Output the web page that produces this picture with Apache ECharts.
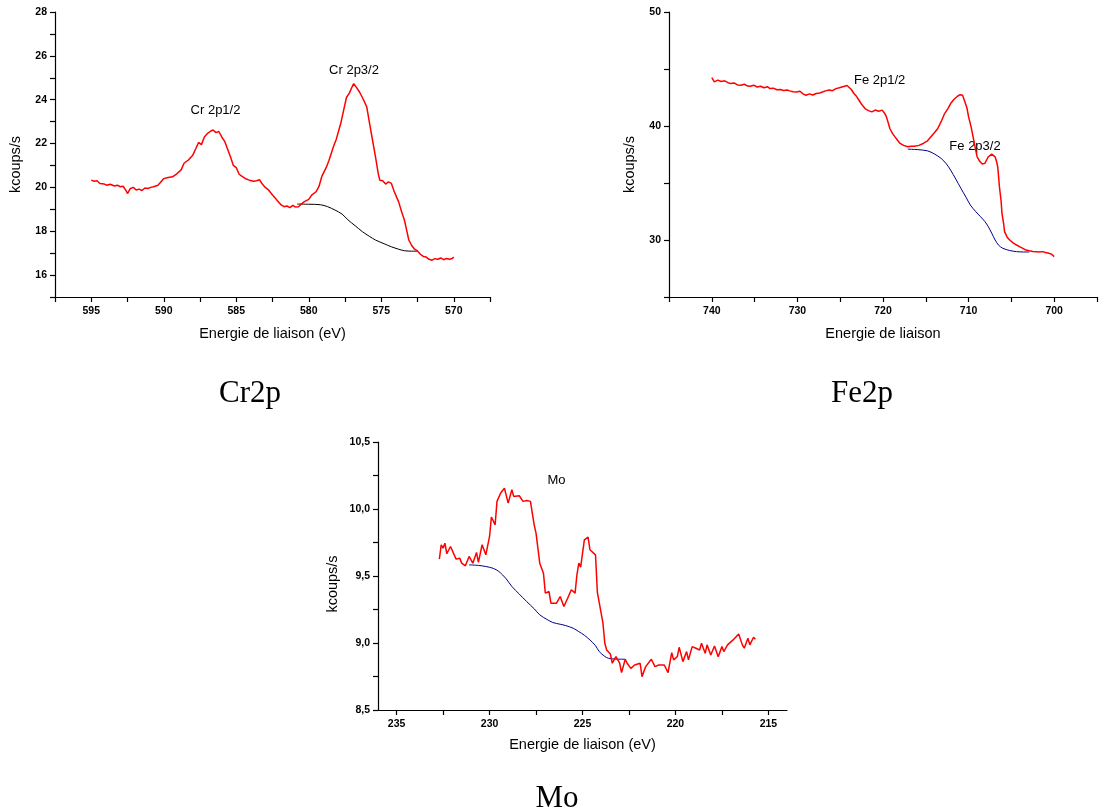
<!DOCTYPE html>
<html>
<head>
<meta charset="utf-8">
<script src="https://cdn.jsdelivr.net/npm/echarts@6/dist/echarts.min.js"></script>
<style>
html,body{margin:0;padding:0;background:#fff;}
#chart{width:1100px;height:811px;}
</style>
</head>
<body>
<div id="chart"></div>
<script>
// ---------- Cr2p ----------
const crX = [595.0,594.8,594.6,594.4,594.1,593.9,593.7,593.4,593.2,593.0,592.8,592.6,592.5,592.3,592.1,591.9,591.7,591.5,591.3,591.1,590.9,590.7,590.4,590.2,590.0,589.7,589.4,589.1,588.8,588.6,588.3,588.0,587.8,587.6,587.4,587.2,587.0,586.8,586.6,586.4,586.2,586.0,585.8,585.6,585.4,585.2,585.0,584.8,584.6,584.3,584.1,583.8,583.6,583.4,583.2,583.0,582.8,582.5,582.3,582.1,581.9,581.7,581.5,581.3,581.1,580.9,580.7,580.5,580.3,580.0,579.8,579.5,579.3,579.1,579.0,578.8,578.6,578.3,578.1,577.8,577.6,577.4,577.2,577.0,576.9,576.7,576.5,576.3,576.0,575.8,575.6,575.4,575.2,575.1,574.9,574.7,574.5,574.3,574.1,573.8,573.6,573.4,573.2,573.1,572.9,572.7,572.5,572.3,572.1,571.9,571.7,571.5,571.3,571.1,570.9,570.7,570.5,570.3,570.1,570.0];
const crY = [20.33,20.28,20.30,20.18,20.15,20.10,20.14,20.06,20.10,20.03,20.05,19.85,19.72,19.95,20.00,19.88,19.92,19.86,19.97,19.95,20.00,20.03,20.10,20.25,20.40,20.45,20.48,20.62,20.80,21.10,21.25,21.47,21.75,22.05,21.95,22.30,22.45,22.55,22.62,22.50,22.55,22.30,22.10,21.75,21.40,21.00,20.90,20.60,20.50,20.38,20.33,20.28,20.30,20.35,20.15,20.00,19.90,19.65,19.50,19.35,19.20,19.12,19.15,19.08,19.18,19.10,19.12,19.25,19.35,19.45,19.65,19.80,20.03,20.50,20.56,20.90,21.24,21.85,22.20,22.90,23.50,24.10,24.30,24.60,24.73,24.55,24.35,24.10,23.67,22.90,22.15,21.40,20.60,20.33,20.30,20.15,20.25,20.18,19.80,19.34,18.90,18.50,17.90,17.60,17.35,17.18,17.10,16.95,16.85,16.82,16.72,16.68,16.75,16.72,16.78,16.70,16.76,16.72,16.76,16.82];
const crBgX = [580.8,580.0,579.2,578.7,578.2,577.7,577.3,576.8,576.3,575.8,575.4,574.8,574.3,573.8,573.4,572.9,572.5];
const crBgY = [19.24,19.23,19.21,19.12,18.97,18.78,18.52,18.25,17.98,17.76,17.60,17.43,17.29,17.18,17.11,17.09,17.09];
const crYTicks = [15, 28, 1];      // min, max, interval
const crXTicks = [567.5, 597.5, 2.5];

// ---------- Fe2p ----------
const feX = [740.0,739.7,739.3,738.9,738.5,738.1,737.8,737.4,737.0,736.6,736.2,735.8,735.5,735.1,734.7,734.3,733.9,733.5,733.2,732.8,732.4,732.0,731.6,731.2,730.9,730.5,730.1,729.7,729.3,729.0,728.6,728.2,727.8,727.4,727.0,726.7,726.3,725.9,725.5,725.1,724.8,724.5,724.2,724.0,723.7,723.4,723.1,722.8,722.5,722.1,721.7,721.3,720.9,720.5,720.1,719.8,719.6,719.4,719.2,718.9,718.6,718.3,718.0,717.6,717.1,716.7,716.3,715.8,715.3,714.8,714.4,714.0,713.6,713.2,712.8,712.4,712.1,711.7,711.3,711.0,710.7,710.5,710.2,710.0,709.7,709.4,709.2,709.0,708.7,708.4,708.1,707.9,707.7,707.5,707.3,707.1,706.9,706.7,706.6,706.5,706.4,706.2,706.1,705.9,705.8,705.5,705.2,704.8,704.4,704.0,703.6,703.3,702.9,702.5,702.1,701.8,701.4,701.0,700.6,700.3,700.0];
const feY = [44.25,43.87,44.02,43.90,43.96,43.80,43.72,43.78,43.60,43.58,43.66,43.50,43.49,43.58,43.42,43.49,43.36,43.45,43.28,43.32,43.18,43.20,43.12,43.16,43.08,43.00,42.99,43.05,42.80,42.70,42.82,42.72,42.85,42.90,43.00,43.08,43.15,43.10,43.28,43.35,43.42,43.49,43.55,43.43,43.20,42.85,42.60,42.26,41.90,41.53,41.35,41.24,41.40,41.30,41.39,41.10,40.80,40.30,39.78,39.35,39.05,38.75,38.47,38.30,38.18,38.22,38.23,38.30,38.47,38.70,39.05,39.40,39.78,40.40,41.09,41.55,41.97,42.35,42.61,42.75,42.70,42.26,41.60,40.80,39.90,38.76,38.00,37.30,36.90,36.66,36.72,36.86,37.30,37.45,37.53,37.45,37.30,36.80,36.42,35.60,34.67,33.40,32.34,31.40,30.73,30.25,30.00,29.75,29.56,29.40,29.25,29.12,29.05,29.00,28.98,28.95,28.98,28.90,28.83,28.75,28.54];
const feBgX = [717.1,716.0,714.8,714.0,713.2,712.6,712.1,711.5,710.9,710.3,709.8,709.2,708.6,708.1,707.7,707.3,706.9,706.5,706.0,705.2,704.4,703.6,702.9];
const feBgY = [37.97,37.93,37.82,37.55,37.15,36.68,36.13,35.35,34.53,33.75,33.07,32.52,32.04,31.62,31.17,30.60,30.00,29.55,29.27,29.08,28.98,28.95,28.95];
const feYTicks = [25, 50, 5];
const feXTicks = [695, 745, 5];

// ---------- Mo ----------
const moX = [232.7,232.6,232.5,232.4,232.3,232.1,232.0,231.8,231.6,231.5,231.3,231.1,230.9,230.7,230.6,230.4,230.2,230.0,229.9,229.7,229.6,229.4,229.2,229.0,228.8,228.7,228.4,228.2,228.0,227.8,227.6,227.5,227.3,227.1,227.0,226.8,226.7,226.4,226.2,226.1,226.0,225.8,225.6,225.4,225.3,225.2,225.1,224.9,224.7,224.6,224.5,224.3,224.2,224.1,223.9,223.8,223.7,223.5,223.4,223.2,223.0,222.9,222.7,222.6,222.4,222.2,221.9,221.8,221.6,221.3,221.1,220.9,220.6,220.4,220.2,220.1,219.9,219.8,219.6,219.4,219.3,219.1,218.9,218.7,218.6,218.4,218.3,218.1,217.9,217.7,217.5,217.4,217.2,216.9,216.6,216.4,216.3,216.1,216.0,215.8,215.7];
const moY = [9.626,9.733,9.708,9.745,9.666,9.720,9.708,9.626,9.633,9.596,9.576,9.646,9.596,9.676,9.601,9.733,9.658,9.795,9.940,9.882,10.057,10.119,10.156,10.044,10.144,10.094,10.099,10.057,10.064,10.057,9.882,9.820,9.596,9.521,9.372,9.384,9.297,9.297,9.347,9.359,9.272,9.334,9.397,9.372,9.509,9.596,9.566,9.770,9.790,9.696,9.708,9.658,9.377,9.372,9.148,8.998,8.948,8.918,8.849,8.898,8.849,8.779,8.879,8.849,8.811,8.836,8.849,8.749,8.824,8.879,8.824,8.836,8.836,8.779,8.928,8.874,8.898,8.968,8.861,8.936,8.874,8.973,8.961,8.948,8.998,8.923,8.986,8.911,8.978,8.898,8.973,8.936,8.986,9.023,9.068,8.986,8.961,9.035,8.986,9.043,9.028];
const moBgX = [231.1,230.6,230.2,229.8,229.5,229.1,228.8,228.4,228.0,227.6,227.3,226.9,226.6,226.2,225.9,225.5,225.2,224.9,224.6,224.3,224.1,223.8,223.6,223.2,222.7];
const moBgY = [9.583,9.579,9.571,9.557,9.534,9.478,9.422,9.365,9.309,9.256,9.210,9.175,9.153,9.140,9.130,9.110,9.085,9.058,9.023,8.980,8.936,8.900,8.886,8.880,8.879];
const moYTicks = [8.5, 10.5, 0.25];
const moXRange = [214, 236];
const moXTickValues = [215,217.5,220,222.5,225,227.5,230,232.5,235];
const moXLabelValues = [215,220,225,230,235];

// ---------- texts ----------
const yName = 'kcoups/s';
const xNameEV = 'Energie de liaison (eV)';
const xNameFe = 'Energie de liaison';
const peakLabels = ['Cr 2p1/2','Cr 2p3/2','Fe 2p1/2','Fe 2p3/2','Mo'];
const captions = ['Cr2p','Fe2p','Mo'];

const pairs = (xs, ys) => xs.map((x, i) => [x, ys[i]]);
const SANS = 'Liberation Sans, Arial, sans-serif';
const SERIF = 'Liberation Serif, Times New Roman, serif';
const TICK = {show: true, inside: false, length: 5, interval: 0, lineStyle: {color: '#000', width: 1.2}};

function mkY(t, fmt, gridIndex, gap, pad) {
  return {
    type: 'value', gridIndex, min: t[0], max: t[1], interval: t[2],
    name: yName, nameLocation: 'middle', nameGap: gap,
    nameTextStyle: {fontFamily: SANS, fontSize: 14.5, color: '#000', padding: pad},
    axisLine: {show: true, lineStyle: {color: '#000', width: 1.2}},
    axisTick: TICK,
    axisLabel: {fontFamily: SANS, fontSize: 10.5, fontWeight: 'bold', color: '#000', margin: 8, formatter: fmt, showMinLabel: true, showMaxLabel: true},
    splitLine: {show: false}
  };
}
function mkX(t, fmt, gridIndex, name, gap) {
  return {
    type: 'value', gridIndex, min: t[0], max: t[1], interval: t[2], inverse: true,
    name: name, nameLocation: 'middle', nameGap: gap,
    nameTextStyle: {fontFamily: SANS, fontSize: 14.5, color: '#000'},
    axisLine: {show: true, onZero: false, lineStyle: {color: '#000', width: 1.2}},
    axisTick: TICK,
    axisLabel: {fontFamily: SANS, fontSize: 10.5, fontWeight: 'bold', color: '#000', margin: 9, formatter: fmt, showMinLabel: true, showMaxLabel: true},
    splitLine: {show: false}
  };
}
const isMult = (v, m) => Math.abs(v / m - Math.round(v / m)) < 1e-6;

const moXAxis = {
  type: 'value', gridIndex: 2, min: moXRange[0], max: moXRange[1], inverse: true,
  name: xNameEV, nameLocation: 'middle', nameGap: 27,
  nameTextStyle: {fontFamily: SANS, fontSize: 14.5, color: '#000'},
  axisLine: {show: true, onZero: false, lineStyle: {color: '#000', width: 1.2}},
  axisTick: Object.assign({}, TICK, {customValues: moXTickValues}),
  axisLabel: {fontFamily: SANS, fontSize: 10.5, fontWeight: 'bold', color: '#000', margin: 9, customValues: moXLabelValues},
  splitLine: {show: false}
};

const option = {
  animation: false,
  backgroundColor: '#fff',
  grid: [
    {left: 55, top: 12, width: 435, height: 285, containLabel: false},
    {left: 669, top: 12, width: 435, height: 285, containLabel: false},
    {left: 378, top: 442, width: 409, height: 268, containLabel: false}
  ],
  xAxis: [
    mkX(crXTicks, v => isMult(v, 5) ? String(v) : '', 0, xNameEV, 29),
    mkX(feXTicks, v => isMult(v, 10) ? String(v) : '', 1, xNameFe, 29),
    moXAxis
  ],
  yAxis: [
    mkY(crYTicks, v => (isMult(v, 2) && v !== crYTicks[0]) ? String(v) : '', 0, 32, [0, 20, 0, 0]),
    mkY(feYTicks, v => (isMult(v, 10)) ? String(v) : '', 1, 32, [0, 20, 0, 0]),
    mkY(moYTicks, v => isMult(v, 0.5) ? v.toFixed(1).replace('.', ',') : '', 2, 38, [0, 16, 0, 0])
  ],
  series: [
    {type: 'line', xAxisIndex: 0, yAxisIndex: 0, data: pairs(crX, crY), showSymbol: false, lineStyle: {color: '#ff0000', width: 1.5}, z: 3},
    {type: 'line', xAxisIndex: 0, yAxisIndex: 0, data: pairs(crBgX, crBgY), showSymbol: false, smooth: 0.3, lineStyle: {color: '#000000', width: 1}, z: 2},
    {type: 'line', xAxisIndex: 1, yAxisIndex: 1, data: pairs(feX, feY), showSymbol: false, lineStyle: {color: '#ff0000', width: 1.5}, z: 3},
    {type: 'line', xAxisIndex: 1, yAxisIndex: 1, data: pairs(feBgX, feBgY), showSymbol: false, smooth: 0.3, lineStyle: {color: '#00008b', width: 1}, z: 2},
    {type: 'line', xAxisIndex: 2, yAxisIndex: 2, data: pairs(moX, moY), showSymbol: false, lineStyle: {color: '#ff0000', width: 1.5}, z: 3},
    {type: 'line', xAxisIndex: 2, yAxisIndex: 2, data: pairs(moBgX, moBgY), showSymbol: false, smooth: 0.3, lineStyle: {color: '#00008b', width: 1}, z: 2}
  ],
  graphic: [
    {type: 'text', x: 215.5, y: 110, style: {text: peakLabels[0], font: '13px ' + SANS, fill: '#000', align: 'center', verticalAlign: 'middle'}},
    {type: 'text', x: 354, y: 70, style: {text: peakLabels[1], font: '13px ' + SANS, fill: '#000', align: 'center', verticalAlign: 'middle'}},
    {type: 'text', x: 854, y: 80.5, style: {text: peakLabels[2], font: '13px ' + SANS, fill: '#000', align: 'left', verticalAlign: 'middle'}},
    {type: 'text', x: 975, y: 146.5, style: {text: peakLabels[3], font: '13px ' + SANS, fill: '#000', align: 'center', verticalAlign: 'middle'}},
    {type: 'text', x: 556.5, y: 480.5, style: {text: peakLabels[4], font: '13px ' + SANS, fill: '#000', align: 'center', verticalAlign: 'middle'}},
    {type: 'text', x: 250, y: 393.5, style: {text: captions[0], font: '31px ' + SERIF, fill: '#000', align: 'center', verticalAlign: 'middle'}},
    {type: 'text', x: 862, y: 393.5, style: {text: captions[1], font: '31px ' + SERIF, fill: '#000', align: 'center', verticalAlign: 'middle'}},
    {type: 'text', x: 557, y: 798.5, style: {text: captions[2], font: '31px ' + SERIF, fill: '#000', align: 'center', verticalAlign: 'middle'}}
  ]
};

const chart = echarts.init(document.getElementById('chart'), null, {renderer: 'canvas'});
chart.setOption(option);
</script>
</body>
</html>
